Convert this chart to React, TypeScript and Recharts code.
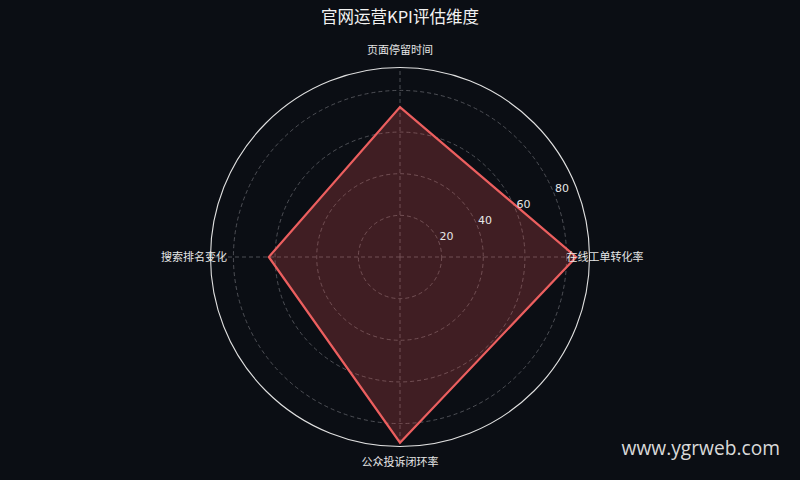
import React from "react";
import { RadarChart, Radar, PolarGrid, PolarAngleAxis, PolarRadiusAxis } from "recharts";

const dimensions = ["页面停留时间", "在线工单转化率", "公众投诉闭环率", "搜索排名变化"];
const scores = [72, 84.6, 89.2, 63];
const radiusTicks = [20, 40, 60, 80];
const radiusMax = 90.8;

const data = dimensions.map((d, i) => ({ dim: d, score: scores[i] }));

const BG = "#0b0e14";
const FONT = "'DejaVu Sans', 'Noto Sans CJK SC', sans-serif";

const AngleTick = (props: any) => {
  const { x, y, textAnchor, payload } = props;
  let dx = 0;
  let dy = 0;
  if (textAnchor === "start") dx = -31;
  else if (textAnchor === "end") dx = 24.5;
  else if (y < 257) dy = -9.5;
  else dy = 7.5;
  return (
    <text
      x={x + dx}
      y={y + dy}
      textAnchor={textAnchor}
      dominantBaseline="central"
      fill="#e6e6e6"
      fontSize={11}
      fontFamily={FONT}
    >
      {payload.value}
    </text>
  );
};

const RadiusTick = (props: any) => {
  const { x, y, payload } = props;
  return (
    <text x={x + 1} y={y - 1} textAnchor="start" fill="#e6e6e6" fontSize={11} fontFamily={FONT}>
      {payload.value}
    </text>
  );
};

export default function App() {
  return (
    <div
      style={{
        position: "fixed",
        left: 0,
        top: 0,
        width: 800,
        height: 480,
        background: BG,
        overflow: "hidden",
      }}
    >
      <div
        style={{
          position: "absolute",
          top: 5,
          left: 0,
          width: 800,
          textAlign: "center",
          color: "#f2f2f2",
          fontSize: 16.5,
          fontFamily: "'Noto Sans CJK SC', sans-serif",
          lineHeight: "22px",
        }}
      >
        官网运营KPI评估维度
      </div>
      <RadarChart
        width={800}
        height={480}
        data={data}
        cx={400}
        cy={257}
        outerRadius={189.5}
        margin={{ top: 0, right: 0, bottom: 0, left: 0 }}
        style={{ position: "absolute", left: 0, top: 0 }}
      >
        <PolarGrid gridType="circle" stroke="#5e6066" strokeDasharray="4 3" strokeWidth={0.8} />
        <PolarAngleAxis
          dataKey="dim"
          tick={<AngleTick />}
          tickLine={false}
          tickSize={8}
          axisLineType="circle"
          axisLine={{ stroke: "#e0e0e0", strokeWidth: 1.1 }}
        />
        <PolarRadiusAxis
          angle={22.5}
          domain={[0, radiusMax]}
          ticks={radiusTicks as any}
          tick={<RadiusTick />}
          axisLine={false}
          tickLine={false}
        />
        <Radar
          dataKey="score"
          stroke="#ec5f5f"
          strokeWidth={2.2}
          fill="#e05050"
          fillOpacity={0.25}
          isAnimationActive={false}
        />
      </RadarChart>
      <div
        style={{
          position: "absolute",
          right: 20,
          top: 435,
          color: "#d9d9d9",
          fontSize: 19.2,
          fontFamily: "'Open Sans', sans-serif",
          lineHeight: "26px",
        }}
      >
        www.ygrweb.com
      </div>
    </div>
  );
}
